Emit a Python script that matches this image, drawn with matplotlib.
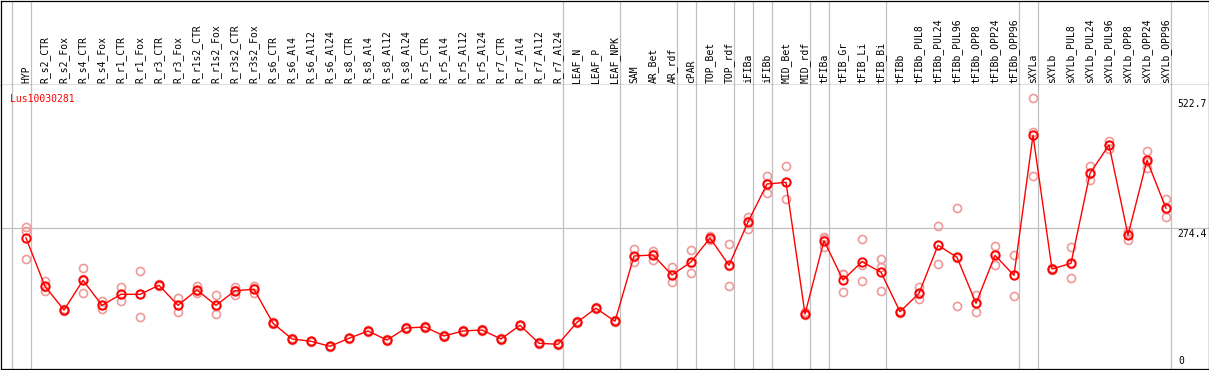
import numpy as np
import matplotlib
matplotlib.use("Agg")
import matplotlib.pyplot as plt
import matplotlib.transforms as mtransforms


gene = "Lus10030281"

samples = ["HYP",
	"R_s2_CTR", "R_s2_Fox", "R_s4_CTR", "R_s4_Fox", "R_r1_CTR", "R_r1_Fox",
	"R_r3_CTR", "R_r3_Fox", "R_r1s2_CTR", "R_r1s2_Fox", "R_r3s2_CTR", "R_r3s2_Fox",
	"R_s6_CTR", "R_s6_Al4", "R_s6_Al12", "R_s6_Al24", "R_s8_CTR", "R_s8_Al4",
	"R_s8_Al12", "R_s8_Al24", "R_r5_CTR", "R_r5_Al4", "R_r5_Al12", "R_r5_Al24",
	"R_r7_CTR", "R_r7_Al4", "R_r7_Al12", "R_r7_Al24",
	"LEAF_N", "LEAF_P", "LEAF_NPK",
	"SAM", "AR_Bet", "AR_rdf",
	"cPAR",
	"TOP_Bet", "TOP_rdf",
	"iFIBa",
	"iFIBb",
	"MID_Bet", "MID_rdf",
	"tFIBa",
	"tFIB_Gr", "tFIB_Li", "tFIB_Bi",
	"tFIBb", "tFIBb_PUL8", "tFIBb_PUL24", "tFIBb_PUL96", "tFIBb_OPP8", "tFIBb_OPP24", "tFIBb_OPP96",
	"sXYLa",
	"sXYLb", "sXYLb_PUL8", "sXYLb_PUL24", "sXYLb_PUL96", "sXYLb_OPP8", "sXYLb_OPP24", "sXYLb_OPP96"]

# sizes of the groups separated by grey lines
groups = [1, 28, 3, 3, 1, 2, 1, 1, 2, 1, 3, 7, 1, 7]

mean = [255.9,
	163.9, 118.7, 175.3, 127.6, 148.6, 148.6, 165.8, 127.6, 156.8, 127.6, 155.5, 158.2,
	93.4, 63.5, 59.1, 49.5, 64.8, 78.7, 61.5, 84.4, 86.3, 69.2, 78.7, 80.6,
	63.5, 89.6, 55.3, 53.4,
	95.3, 122.0, 97.2,
	221.6, 223.5, 185.4,
	210.2,
	255.9, 203.9,
	286.4,
	358.8,
	362.0, 111.1,
	250.8,
	175.9, 210.8, 190.5,
	115.5, 150.5, 242.0, 219.1, 131.5, 222.9, 184.8,
	451.6,
	196.8, 207.7, 379.2, 433.1, 261.6, 404.0, 312.5]

rep1 = [276.3,
	174.0, 121.0, 198.2, 135.3, 162.0, 192.5, 168.0, 141.0, 164.4, 146.7, 163.1, 163.9,
	95.0, 65.0, 60.5, 51.0, 66.0, 80.0, 63.0, 86.0, 88.0, 70.5, 80.0, 82.0,
	65.0, 91.0, 57.0, 55.0,
	97.0, 124.0, 99.0,
	234.4, 231.1, 200.1,
	233.0,
	259.0, 243.9,
	296.5,
	374.0,
	393.1, 114.5,
	258.4,
	187.3, 254.0, 215.3,
	117.5, 162.5, 278.2, 312.5, 147.3, 240.1, 222.9,
	522.7,
	199.0, 238.2, 393.1, 441.3, 269.8, 421.7, 330.2]

rep2 = [215.3,
	155.0, 116.0, 150.5, 120.0, 135.3, 104.8, 163.5, 114.3, 150.5, 110.5, 146.7, 150.5,
	92.0, 62.0, 57.8, 48.0, 63.5, 77.5, 60.0, 83.0, 85.0, 68.0, 77.5, 79.0,
	62.0, 88.0, 54.0, 52.0,
	94.0, 120.0, 95.5,
	210.2, 214.0, 171.5,
	188.6,
	253.0, 164.4,
	273.6,
	341.1,
	329.7, 108.3,
	239.3,
	152.4, 174.0, 154.9,
	113.5, 139.0, 205.8, 126.3, 115.5, 203.9, 145.4,
	373.5,
	194.5, 179.1, 366.4, 424.9, 252.0, 388.7, 295.4]

rep3 = [269.8,
	162.0, 119.0, 177.0, 127.5, 148.5, 148.5, 166.0, 127.5, 155.5, 125.6, 156.7, 160.2,
	93.2, 63.5, 59.0, 49.5, 64.9, 78.6, 61.5, 84.2, 86.0, 69.1, 78.6, 80.8,
	63.5, 89.8, 55.0, 53.2,
	95.0, 122.0, 97.0,
	220.2, 225.4, 184.6,
	209.0,
	255.7, 203.4,
	289.1,
	361.3,
	363.2, 110.5,
	254.7,
	188.0, 204.4, 201.2,
	115.5, 150.0, 242.0, 218.5, 131.7, 224.7, 186.1,
	458.5,
	196.9, 205.8, 378.1, 433.1, 263.0, 401.6, 311.9]

axis_labels = [522.7, 274.4, 0]

W, H = 1209, 370
RED = "#FF0000"
PINK = "#EE9A9A"
GREY = "#C0C0C0"

x = np.arange(len(samples))
seps = np.cumsum([0] + groups) - 1 + 0.24

fig = plt.figure(figsize=(W / 100, H / 100), dpi=100)
x0 = (0.5 - 26) / 19
x1 = (W - 0.5 - 26) / 19

# header with the sample names
hd = fig.add_axes([0.5 / W, (H - 85) / H, (W - 1) / W, 84.5 / H])
hd.set_xlim(x0, x1)
hd.set_ylim(0, 1)
hd.set_xticks([])
hd.set_yticks([])
for s in hd.spines.values():
	s.set_color("black")
	s.set_linewidth(0.9)
for sx in seps:
	hd.axvline(sx, color=GREY, lw=0.9)
for i, name in enumerate(samples):
	hd.text(i, 0.025, name, rotation=90, ha="center", va="bottom",
		family="DejaVu Sans Mono", fontsize=7, color="black")

# expression plot
ax = fig.add_axes([0.5 / W, 1 / H, (W - 1) / W, 284 / H])
ax.set_xlim(x0, x1)
scale = 0.5248
ax.set_ylim((372.3 - 369) / scale, (372.3 - 85) / scale)
ax.set_xticks([])
ax.set_yticks([])
for s in ax.spines.values():
	s.set_color("black")
	s.set_linewidth(0.9)
ax.spines["top"].set_visible(False)

for sx in seps:
	ax.axvline(sx, color=GREY, lw=0.9, zorder=1)
ax.axhline(axis_labels[1], color=GREY, lw=0.9, zorder=1)

for rep in (rep1, rep2, rep3):
	ax.plot(x, rep, "o", ms=5.8, mfc="none", mec=PINK, mew=1.2, zorder=2)
ax.plot(x, mean, "-", color=RED, lw=1.0, zorder=3)
ax.plot(x, mean, "o", ms=6.0, mfc="none", mec=RED, mew=1.4, zorder=4)

ax.text(10 / W, (369 - 101.5) / 284, gene, transform=ax.transAxes,
	family="DejaVu Sans Mono", fontsize=7, color=RED, va="baseline", ha="left")

tr = mtransforms.blended_transform_factory(ax.transAxes, ax.transData)
for v in axis_labels[:2]:
	t = mtransforms.offset_copy(tr, fig=fig, x=0, y=-9, units="dots")
	ax.text(1178 / W, v, "%.1f" % v, transform=t, family="DejaVu Sans Mono",
		fontsize=7, va="baseline", ha="left")
ax.text(1179 / W, 4.5 / 284, "%d" % axis_labels[2], transform=ax.transAxes,
	family="DejaVu Sans Mono", fontsize=7, va="baseline", ha="left")

fig.savefig("out.png", dpi=100)
